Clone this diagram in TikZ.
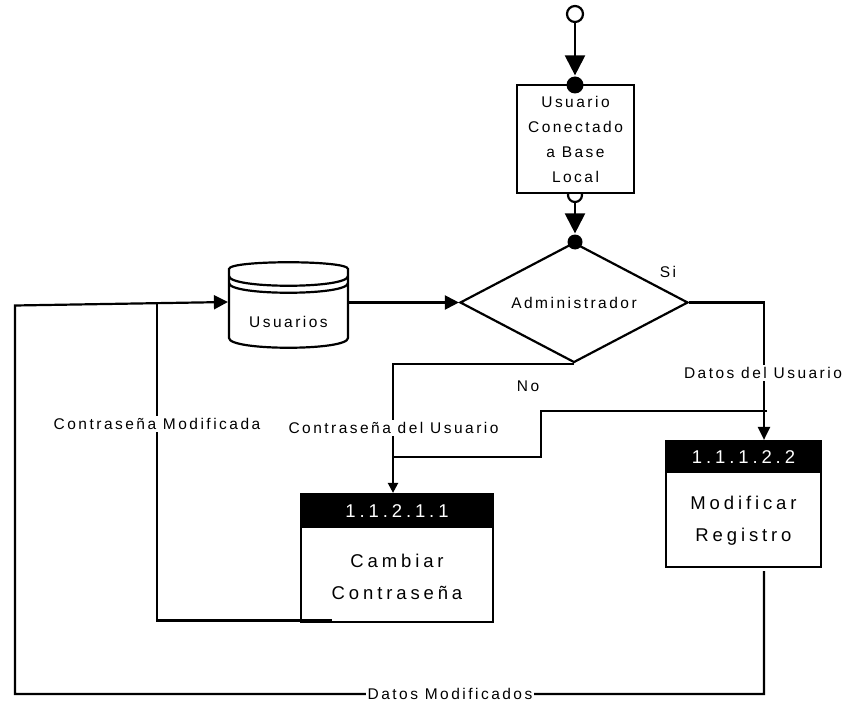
\documentclass[tikz,border=0pt]{standalone}
\usepackage{fontspec}
\newfontfamily\lsf{Liberation Sans}[LetterSpace=16]
\newfontfamily\lsfb{Liberation Sans}[LetterSpace=21]
\usetikzlibrary{arrows.meta,shapes.geometric}
\begin{document}
\begin{tikzpicture}[x=1pt,y=-1pt,line width=2.2pt,
  sm/.style={font=\lsf\fontsize{15.5}{25}\selectfont},
  bg/.style={font=\lsfb\fontsize{18.5}{32}\selectfont},
  lbl/.style={sm,fill=white,inner sep=2pt},
  bigtip/.style={-{Triangle[length=20pt,width=20pt]}},
  tip/.style={-{Triangle[length=14pt,width=14pt]}},
  smalltip/.style={-{Triangle[length=13pt,width=12pt]}},
  hdr/.style={bg,fill=black,text=white,anchor=north,inner sep=0pt},
  boxbody/.style={draw,fill=white,inner sep=0pt}]
\useasboundingbox (0,0) rectangle (852,706);

% start / connection symbols
\node[circle,draw,fill=white,minimum size=16pt,inner sep=0pt] (start) at (575,14) {};
\node[circle,draw,fill=white,minimum size=14pt,inner sep=0pt] (endc) at (575,195) {};
\node[boxbody,sm,align=center,minimum width=117pt,minimum height=108pt] (conn) at (575.5,139) {Usuario\\Conectado\\a Base\\Local};
\node[circle,fill=black,minimum size=17pt,inner sep=0pt] (dot1) at (575,85) {};

% decision
\node[diamond,draw,fill=white,aspect=1.9,minimum width=228pt,minimum height=120pt,inner sep=0pt,sm] (adm) at (574,302.5) {Administrador};
\node[circle,fill=black,minimum size=15pt,inner sep=0pt] (dot2) at (575,242) {};

% data store
\draw[fill=white] (229,269) .. controls (229,260) and (348,260) .. (348,269)
  -- (348,338) .. controls (348,351) and (229,351) .. (229,338) -- cycle;
\draw (229,276) .. controls (229,289) and (348,289) .. (348,276);
\draw (229,283) .. controls (229,296) and (348,296) .. (348,283);
\node[minimum width=119pt,minimum height=85pt,inner sep=0pt] (usu) at (288.5,305.5) {};
\node[sm] (usut) at (288.5,322) {Usuarios};

% processes
\node[boxbody,minimum width=192pt,minimum height=128pt] (cam) at (397,558) {};
\node[hdr,minimum width=192pt,minimum height=34pt] (camh) at (cam.north) {1.1.2.1.1};
\node[bg,align=center] (camt) at (397,577) {Cambiar\\Contraseña};

\node[boxbody,minimum width=155pt,minimum height=126pt] (mod) at (743.5,504) {};
\node[hdr,minimum width=155pt,minimum height=32pt] (modh) at (mod.north) {1.1.1.2.2};
\node[bg,align=center] (modt) at (743.5,521) {Modificar\\Registro};

% connectors
\draw[bigtip] (start) -- (dot1);
\draw[bigtip] (endc) -- (dot2);
\draw[tip] (usu.east |- adm.west) -- (adm.west);

\draw[smalltip] (adm.east) -| ([xshift=20.5pt]mod.north);
\node[lbl] (lsi) at (668,272) {Si};
\node[lbl] (ldu) at (763,373) {Datos del Usuario};

\draw[-{Triangle[length=10pt,width=10pt]}] (adm.south) -| ([xshift=-4pt]cam.north);
\node[sm] (lno) at (528,386) {No};
\node[lbl] (lcu) at (393.5,428) {Contraseña del Usuario};

\coordinate (j1) at (767,411);
\coordinate (j2) at (393,457);
\draw (j1) -- (541,411) -- (541,457) -- (j2);

\coordinate (cm) at (332,620.5);
\coordinate (cmt) at (157,302);
\draw (cm) -- (cmt |- cm) -- (cmt);
\node[lbl] (lcm) at (157,424) {Contraseña Modificada};

\coordinate (dm) at (764,571);
\coordinate (dml) at (15,694);
\draw[tip] (dm) -- (dm |- dml) -- (dml) -- (dml |- usu.west) -- (usu.west |- cmt);
\node[lbl] (ldm) at (450,694) {Datos Modificados};
\end{tikzpicture}
\end{document}
